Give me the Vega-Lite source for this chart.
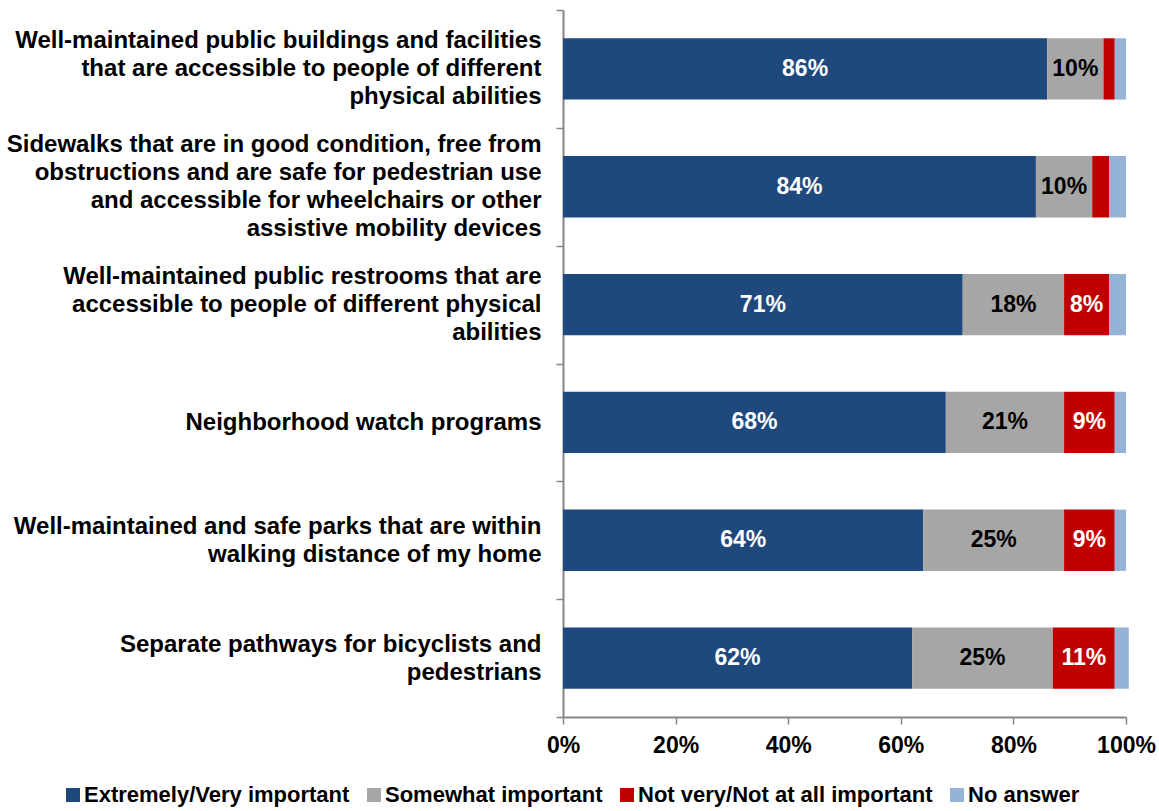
{
  "$schema": "https://vega.github.io/schema/vega-lite/v6.json",
  "width": 563,
  "height": 707,
  "autosize": {"type": "none"},
  "padding": {"left": 563, "top": 10, "right": 33, "bottom": 94},
  "background": "white",
  "config": {"view": {"stroke": null}, "font": "Liberation Sans"},
  "data": {
    "values": [
      {"item": "Well-maintained public buildings and facilities|that are accessible to people of different|physical abilities", "resp": "Extremely/Very important", "ord": 1, "pct": 86},
      {"item": "Well-maintained public buildings and facilities|that are accessible to people of different|physical abilities", "resp": "Somewhat important", "ord": 2, "pct": 10},
      {"item": "Well-maintained public buildings and facilities|that are accessible to people of different|physical abilities", "resp": "Not very/Not at all important", "ord": 3, "pct": 2},
      {"item": "Well-maintained public buildings and facilities|that are accessible to people of different|physical abilities", "resp": "No answer", "ord": 4, "pct": 2},
      {"item": "Sidewalks that are in good condition, free from|obstructions and are safe for pedestrian use|and accessible for wheelchairs or other|assistive mobility devices", "resp": "Extremely/Very important", "ord": 1, "pct": 84},
      {"item": "Sidewalks that are in good condition, free from|obstructions and are safe for pedestrian use|and accessible for wheelchairs or other|assistive mobility devices", "resp": "Somewhat important", "ord": 2, "pct": 10},
      {"item": "Sidewalks that are in good condition, free from|obstructions and are safe for pedestrian use|and accessible for wheelchairs or other|assistive mobility devices", "resp": "Not very/Not at all important", "ord": 3, "pct": 3},
      {"item": "Sidewalks that are in good condition, free from|obstructions and are safe for pedestrian use|and accessible for wheelchairs or other|assistive mobility devices", "resp": "No answer", "ord": 4, "pct": 3},
      {"item": "Well-maintained public restrooms that are|accessible to people of different physical|abilities", "resp": "Extremely/Very important", "ord": 1, "pct": 71},
      {"item": "Well-maintained public restrooms that are|accessible to people of different physical|abilities", "resp": "Somewhat important", "ord": 2, "pct": 18},
      {"item": "Well-maintained public restrooms that are|accessible to people of different physical|abilities", "resp": "Not very/Not at all important", "ord": 3, "pct": 8},
      {"item": "Well-maintained public restrooms that are|accessible to people of different physical|abilities", "resp": "No answer", "ord": 4, "pct": 3},
      {"item": "Neighborhood watch programs", "resp": "Extremely/Very important", "ord": 1, "pct": 68},
      {"item": "Neighborhood watch programs", "resp": "Somewhat important", "ord": 2, "pct": 21},
      {"item": "Neighborhood watch programs", "resp": "Not very/Not at all important", "ord": 3, "pct": 9},
      {"item": "Neighborhood watch programs", "resp": "No answer", "ord": 4, "pct": 2},
      {"item": "Well-maintained and safe parks that are within|walking distance of my home", "resp": "Extremely/Very important", "ord": 1, "pct": 64},
      {"item": "Well-maintained and safe parks that are within|walking distance of my home", "resp": "Somewhat important", "ord": 2, "pct": 25},
      {"item": "Well-maintained and safe parks that are within|walking distance of my home", "resp": "Not very/Not at all important", "ord": 3, "pct": 9},
      {"item": "Well-maintained and safe parks that are within|walking distance of my home", "resp": "No answer", "ord": 4, "pct": 2},
      {"item": "Separate pathways for bicyclists and|pedestrians", "resp": "Extremely/Very important", "ord": 1, "pct": 62},
      {"item": "Separate pathways for bicyclists and|pedestrians", "resp": "Somewhat important", "ord": 2, "pct": 25},
      {"item": "Separate pathways for bicyclists and|pedestrians", "resp": "Not very/Not at all important", "ord": 3, "pct": 11},
      {"item": "Separate pathways for bicyclists and|pedestrians", "resp": "No answer", "ord": 4, "pct": 2.5}
    ]
  },
  "encoding": {
    "y": {
      "field": "item",
      "type": "nominal",
      "sort": null,
      "title": null,
      "scale": {"paddingInner": 0, "paddingOuter": 0},
      "axis": {
        "labelExpr": "indexof(datum.label, '|') < 0 ? ['', datum.label] : split(datum.label, '|')",
        "labelFont": "Liberation Sans",
        "labelFontSize": 24,
        "labelFontWeight": "bold",
        "labelColor": "#000000",
        "labelLineHeight": 28,
        "labelAlign": "right",
        "labelBaseline": {
          "condition": [
            {"test": "length(split(datum.value, '|')) == 2", "value": "line-top"},
            {"test": "length(split(datum.value, '|')) == 4", "value": "line-bottom"}
          ],
          "value": "middle"
        },
        "labelOffset": -28,
        "labelLimit": 0,
        "labelPadding": 15,
        "tickBand": "extent",
        "tickSize": 7,
        "tickColor": "#868686",
        "tickWidth": 1.5,
        "domainColor": "#868686",
        "domainWidth": 2,
        "grid": false
      }
    }
  },
  "layer": [
    {
      "mark": {"type": "bar", "height": {"band": 0.52}},
      "encoding": {
        "x": {
          "field": "pct",
          "type": "quantitative",
          "stack": "zero",
          "title": null,
          "scale": {"domain": [0, 100], "nice": false},
          "axis": {
            "values": [0, 20, 40, 60, 80, 100],
            "labelExpr": "datum.value + '%'",
            "labelFont": "Liberation Sans",
            "labelFontSize": 23,
            "labelFontWeight": "bold",
            "labelColor": "#000000",
            "labelPadding": 10,
            "labelFlush": false,
            "tickSize": 7,
            "tickColor": "#868686",
            "tickWidth": 1.5,
            "domainColor": "#868686",
            "domainWidth": 2,
            "grid": false
          }
        },
        "color": {
          "field": "resp",
          "type": "nominal",
          "sort": ["Extremely/Very important", "Somewhat important", "Not very/Not at all important", "No answer"],
          "scale": {
            "domain": ["Extremely/Very important", "Somewhat important", "Not very/Not at all important", "No answer"],
            "range": ["#1F497D", "#A6A6A6", "#C00000", "#95B3D7"]
          },
          "legend": {
            "title": null,
            "orient": "none",
            "direction": "horizontal",
            "legendX": -501,
            "legendY": 774,
            "padding": 0,
            "symbolType": "square",
            "symbolSize": 196,
            "symbolStrokeWidth": 0,
            "symbolOpacity": 1,
            "labelOffset": 0,
            "columnPadding": 13,
            "labelFont": "Liberation Sans",
            "labelFontSize": 22,
            "labelFontWeight": "bold",
            "labelColor": "#000000",
            "labelLimit": 0
          }
        },
        "order": {"field": "ord", "type": "quantitative"}
      }
    },
    {
      "transform": [
        {"stack": "pct", "groupby": ["item"], "sort": [{"field": "ord", "order": "ascending"}], "as": ["x0", "x1"]},
        {"filter": "datum.pct >= 5 && datum.resp != 'No answer'"},
        {"calculate": "(datum.x0 + datum.x1) / 2", "as": "mid"},
        {"calculate": "datum.pct + '%'", "as": "lab"}
      ],
      "mark": {"type": "text", "font": "Liberation Sans", "fontSize": 23, "fontWeight": "bold", "align": "center", "baseline": "middle"},
      "encoding": {
        "x": {"field": "mid", "type": "quantitative"},
        "text": {"field": "lab", "type": "nominal"},
        "color": {"condition": {"test": "datum.resp == 'Somewhat important'", "value": "#000000"}, "value": "#FFFFFF"}
      }
    }
  ]
}
